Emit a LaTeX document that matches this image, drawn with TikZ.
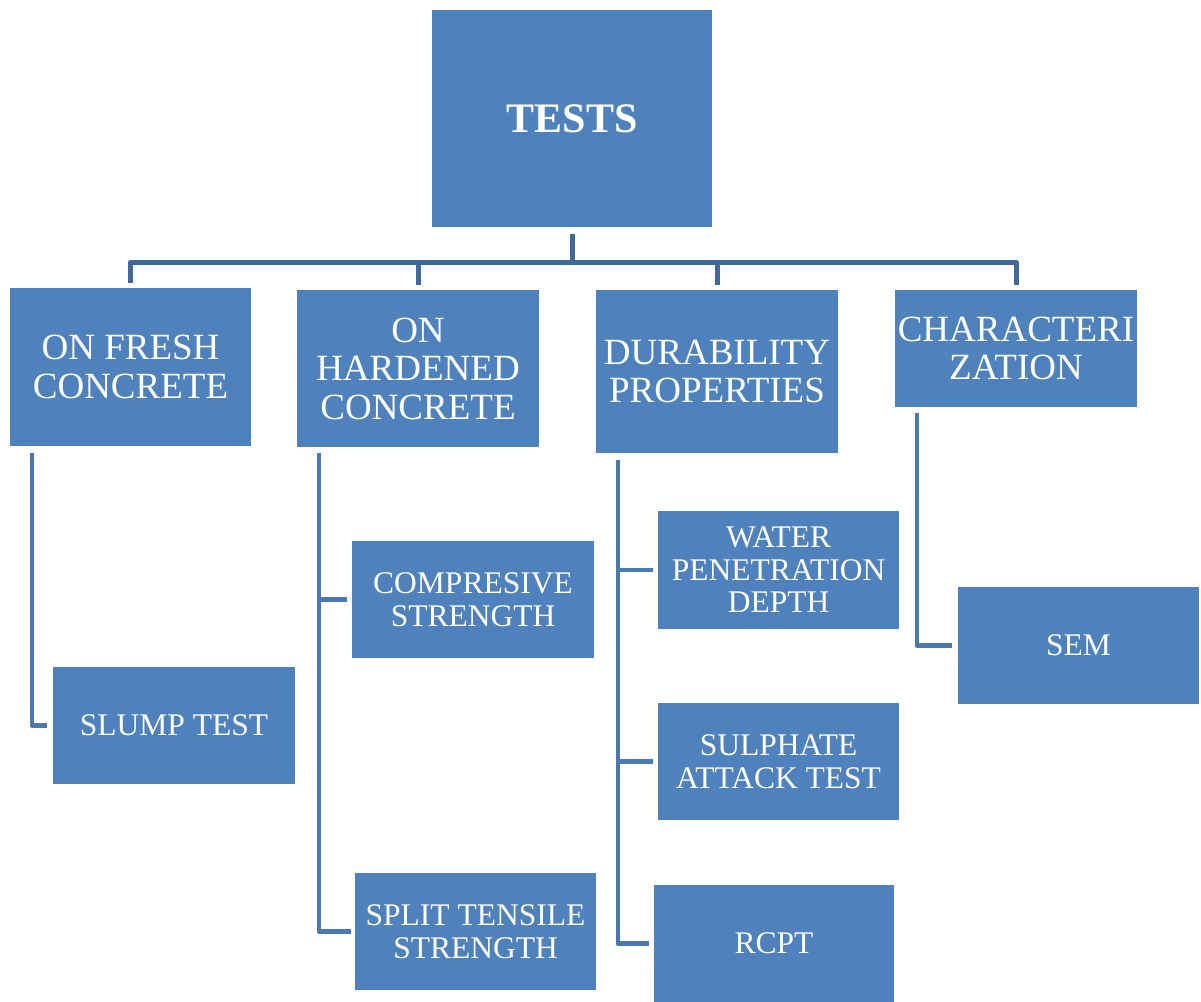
\documentclass[tikz,border=0pt]{standalone}
\usepackage{fontspec}
\setmainfont{Liberation Serif}
\definecolor{boxblue}{HTML}{4F81BD}
\definecolor{busblue}{HTML}{41689B}
\definecolor{sideblue}{HTML}{4A78B3}
\begin{document}
\begin{tikzpicture}[x=1pt,y=-1pt,
  box/.style={rectangle, fill=boxblue, text=white, align=center, inner sep=0pt},
  lvlone/.style={box, font=\fontsize{37}{38.5}\selectfont},
  leaf/.style={box, font=\fontsize{31.5}{32.5}\selectfont},
  topline/.style={draw=busblue, line width=5pt, line join=round},
  sideline/.style={draw=sideblue, line width=4.5pt, line join=round}]
\useasboundingbox (0,0) rectangle (1201,1001);
% root
\node[box, minimum width=280pt, minimum height=217pt, font=\fontsize{42}{44}\selectfont\bfseries] (tests) at (572,118.5) {TESTS};
% level one
\node[lvlone, minimum width=241pt, minimum height=158pt] (fresh) at (130.5,367) {ON FRESH\\CONCRETE};
\node[lvlone, minimum width=242pt, minimum height=157pt] (hard) at (418,368.5) {ON\\HARDENED\\CONCRETE};
\node[lvlone, minimum width=242pt, minimum height=163pt] (durab) at (717,371.5) {DURABILITY\\PROPERTIES};
\node[lvlone, minimum width=242pt, minimum height=117pt] (char) at (1016,348.5) {CHARACTERI\\ZATION};
% leaves
\node[leaf, minimum width=242pt, minimum height=117pt] (slump) at (174,725.5) {SLUMP TEST};
\node[leaf, minimum width=242pt, minimum height=117pt] (comp) at (473,599.5) {COMPRESIVE\\STRENGTH};
\node[leaf, minimum width=241pt, minimum height=117pt] (split) at (475.5,931.5) {SPLIT TENSILE\\STRENGTH};
\node[leaf, minimum width=241pt, minimum height=118pt] (water) at (778.5,570) {WATER\\PENETRATION\\DEPTH};
\node[leaf, minimum width=241pt, minimum height=117pt] (sulph) at (778.5,761.5) {SULPHATE\\ATTACK TEST};
\node[leaf, minimum width=240pt, minimum height=117pt] (rcpt) at (774,943.5) {RCPT};
\node[leaf, minimum width=241pt, minimum height=117pt] (sem) at (1078.5,645.5) {SEM};
% top bus
\coordinate (busL) at (130.5,262);
\coordinate (busR) at (1016,262);
\draw[topline] ([yshift=-7pt]tests.south) -- (tests.south |- busL);
\draw[topline] ([yshift=5pt]fresh.north) -- (busL) -- (busR) -- ([yshift=5pt]char.north);
\draw[topline] (hard.north |- busL) -- ([yshift=5pt]hard.north);
\draw[topline] (durab.north |- busL) -- ([yshift=5pt]durab.north);
% side connectors
\draw[sideline] ([xshift=22pt,yshift=-7pt]fresh.south west) |- ([xshift=-6pt]slump.west);
\draw[sideline] ([xshift=22pt,yshift=-6pt]hard.south west) |- ([xshift=-4pt]split.west);
\draw[sideline] ([xshift=22pt]hard.south west |- comp.west) -- ([xshift=-5pt]comp.west);
\draw[sideline] ([xshift=22pt,yshift=-7pt]durab.south west) |- ([xshift=-5pt]rcpt.west);
\draw[sideline] ([xshift=22pt]durab.south west |- water.west) -- ([xshift=-5pt]water.west);
\draw[sideline] ([xshift=22pt]durab.south west |- sulph.west) -- ([xshift=-5pt]sulph.west);
\draw[sideline] ([xshift=22pt,yshift=-6pt]char.south west) |- ([xshift=-6pt]sem.west);
\end{tikzpicture}
\end{document}
